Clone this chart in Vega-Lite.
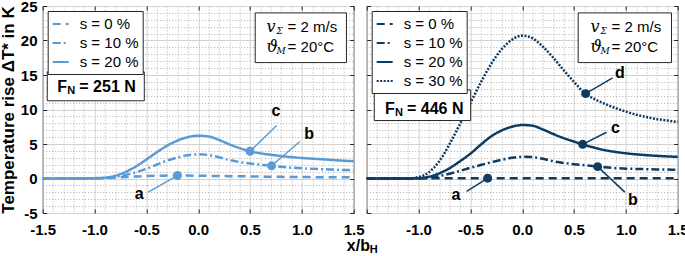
{
  "$schema": "https://vega.github.io/schema/vega-lite/v6.json",
  "autosize": {"type": "none"},
  "padding": {"left": 42.7, "top": 6, "right": 642.3, "bottom": 250},
  "background": "white",
  "spacing": 13,
  "bounds": "flush",
  "config": {
    "font": "Liberation Sans",
    "view": {"stroke": "#262626", "strokeWidth": 1},
    "axis": {
      "labelFont": "Liberation Sans", "labelFontSize": 15, "labelFontWeight": "bold", "labelColor": "#000000",
      "titleFont": "Liberation Sans", "titleFontWeight": "bold", "titleColor": "#000000",
      "domain": false, "ticks": false, "labelOverlap": false, "labelFlush": false, "grid": true,
      "tickColor": "#262626", "tickWidth": 1
    }
  },
  "resolve": {
    "scale": {"x": "independent", "y": "independent", "strokeDash": "independent"},
    "legend": {"strokeDash": "independent"}
  },
  "datasets": {
    "left": [
      {"s": "s = 0 %", "x": -1.5, "y": 0}, {"s": "s = 0 %", "x": -1.4, "y": 0}, {"s": "s = 0 %", "x": -1.3, "y": 0}, {"s": "s = 0 %", "x": -1.2, "y": 0}, {"s": "s = 0 %", "x": -1.1, "y": 0}, {"s": "s = 0 %", "x": -1.0, "y": 0.01}, {"s": "s = 0 %", "x": -0.9, "y": 0.05}, {"s": "s = 0 %", "x": -0.8, "y": 0.12}, {"s": "s = 0 %", "x": -0.7, "y": 0.22}, {"s": "s = 0 %", "x": -0.6, "y": 0.3}, {"s": "s = 0 %", "x": -0.5, "y": 0.36}, {"s": "s = 0 %", "x": -0.4, "y": 0.4}, {"s": "s = 0 %", "x": -0.3, "y": 0.42}, {"s": "s = 0 %", "x": -0.2, "y": 0.43}, {"s": "s = 0 %", "x": -0.1, "y": 0.42}, {"s": "s = 0 %", "x": 0, "y": 0.4}, {"s": "s = 0 %", "x": 0.1, "y": 0.38}, {"s": "s = 0 %", "x": 0.2, "y": 0.36}, {"s": "s = 0 %", "x": 0.3, "y": 0.34}, {"s": "s = 0 %", "x": 0.4, "y": 0.32}, {"s": "s = 0 %", "x": 0.5, "y": 0.3}, {"s": "s = 0 %", "x": 0.6, "y": 0.28}, {"s": "s = 0 %", "x": 0.7, "y": 0.26}, {"s": "s = 0 %", "x": 0.8, "y": 0.24}, {"s": "s = 0 %", "x": 0.9, "y": 0.22}, {"s": "s = 0 %", "x": 1.0, "y": 0.21}, {"s": "s = 0 %", "x": 1.1, "y": 0.2}, {"s": "s = 0 %", "x": 1.2, "y": 0.19}, {"s": "s = 0 %", "x": 1.3, "y": 0.18}, {"s": "s = 0 %", "x": 1.4, "y": 0.17}, {"s": "s = 0 %", "x": 1.5, "y": 0.16},
      {"s": "s = 10 %", "x": -1.5, "y": 0}, {"s": "s = 10 %", "x": -1.4, "y": 0}, {"s": "s = 10 %", "x": -1.3, "y": 0}, {"s": "s = 10 %", "x": -1.2, "y": 0}, {"s": "s = 10 %", "x": -1.1, "y": 0}, {"s": "s = 10 %", "x": -1.0, "y": 0.02}, {"s": "s = 10 %", "x": -0.9, "y": 0.08}, {"s": "s = 10 %", "x": -0.8, "y": 0.22}, {"s": "s = 10 %", "x": -0.7, "y": 0.5}, {"s": "s = 10 %", "x": -0.6, "y": 0.9}, {"s": "s = 10 %", "x": -0.5, "y": 1.4}, {"s": "s = 10 %", "x": -0.4, "y": 2.0}, {"s": "s = 10 %", "x": -0.3, "y": 2.6}, {"s": "s = 10 %", "x": -0.2, "y": 3.05}, {"s": "s = 10 %", "x": -0.1, "y": 3.38}, {"s": "s = 10 %", "x": 0, "y": 3.5}, {"s": "s = 10 %", "x": 0.1, "y": 3.4}, {"s": "s = 10 %", "x": 0.2, "y": 3.08}, {"s": "s = 10 %", "x": 0.3, "y": 2.68}, {"s": "s = 10 %", "x": 0.4, "y": 2.38}, {"s": "s = 10 %", "x": 0.5, "y": 2.17}, {"s": "s = 10 %", "x": 0.6, "y": 2.0}, {"s": "s = 10 %", "x": 0.7, "y": 1.85}, {"s": "s = 10 %", "x": 0.8, "y": 1.7}, {"s": "s = 10 %", "x": 0.9, "y": 1.57}, {"s": "s = 10 %", "x": 1.0, "y": 1.47}, {"s": "s = 10 %", "x": 1.1, "y": 1.4}, {"s": "s = 10 %", "x": 1.2, "y": 1.34}, {"s": "s = 10 %", "x": 1.3, "y": 1.29}, {"s": "s = 10 %", "x": 1.4, "y": 1.24}, {"s": "s = 10 %", "x": 1.5, "y": 1.2},
      {"s": "s = 20 %", "x": -1.5, "y": 0}, {"s": "s = 20 %", "x": -1.4, "y": 0}, {"s": "s = 20 %", "x": -1.3, "y": 0}, {"s": "s = 20 %", "x": -1.2, "y": 0}, {"s": "s = 20 %", "x": -1.1, "y": 0.02}, {"s": "s = 20 %", "x": -1.0, "y": 0.05}, {"s": "s = 20 %", "x": -0.9, "y": 0.12}, {"s": "s = 20 %", "x": -0.8, "y": 0.4}, {"s": "s = 20 %", "x": -0.7, "y": 0.95}, {"s": "s = 20 %", "x": -0.6, "y": 1.75}, {"s": "s = 20 %", "x": -0.5, "y": 2.75}, {"s": "s = 20 %", "x": -0.4, "y": 3.8}, {"s": "s = 20 %", "x": -0.3, "y": 4.75}, {"s": "s = 20 %", "x": -0.2, "y": 5.5}, {"s": "s = 20 %", "x": -0.1, "y": 6.0}, {"s": "s = 20 %", "x": 0, "y": 6.2}, {"s": "s = 20 %", "x": 0.1, "y": 6.1}, {"s": "s = 20 %", "x": 0.2, "y": 5.6}, {"s": "s = 20 %", "x": 0.3, "y": 4.95}, {"s": "s = 20 %", "x": 0.4, "y": 4.4}, {"s": "s = 20 %", "x": 0.5, "y": 3.95}, {"s": "s = 20 %", "x": 0.6, "y": 3.65}, {"s": "s = 20 %", "x": 0.7, "y": 3.45}, {"s": "s = 20 %", "x": 0.8, "y": 3.25}, {"s": "s = 20 %", "x": 0.9, "y": 3.1}, {"s": "s = 20 %", "x": 1.0, "y": 2.97}, {"s": "s = 20 %", "x": 1.1, "y": 2.87}, {"s": "s = 20 %", "x": 1.2, "y": 2.78}, {"s": "s = 20 %", "x": 1.3, "y": 2.68}, {"s": "s = 20 %", "x": 1.4, "y": 2.58}, {"s": "s = 20 %", "x": 1.5, "y": 2.5}
    ],
    "right": [
      {"s": "s = 0 %", "x": -1.5, "y": 0}, {"s": "s = 0 %", "x": -1.0, "y": 0}, {"s": "s = 0 %", "x": -0.9, "y": 0.01}, {"s": "s = 0 %", "x": -0.8, "y": 0.03}, {"s": "s = 0 %", "x": -0.7, "y": 0.05}, {"s": "s = 0 %", "x": -0.5, "y": 0.05}, {"s": "s = 0 %", "x": 0, "y": 0.05}, {"s": "s = 0 %", "x": 0.5, "y": 0.05}, {"s": "s = 0 %", "x": 1.0, "y": 0.05}, {"s": "s = 0 %", "x": 1.5, "y": 0.05},
      {"s": "s = 10 %", "x": -1.5, "y": 0}, {"s": "s = 10 %", "x": -1.4, "y": 0}, {"s": "s = 10 %", "x": -1.3, "y": 0}, {"s": "s = 10 %", "x": -1.2, "y": 0}, {"s": "s = 10 %", "x": -1.1, "y": 0}, {"s": "s = 10 %", "x": -1.0, "y": 0.02}, {"s": "s = 10 %", "x": -0.9, "y": 0.1}, {"s": "s = 10 %", "x": -0.8, "y": 0.35}, {"s": "s = 10 %", "x": -0.7, "y": 0.7}, {"s": "s = 10 %", "x": -0.6, "y": 1.1}, {"s": "s = 10 %", "x": -0.5, "y": 1.55}, {"s": "s = 10 %", "x": -0.4, "y": 1.95}, {"s": "s = 10 %", "x": -0.3, "y": 2.35}, {"s": "s = 10 %", "x": -0.2, "y": 2.7}, {"s": "s = 10 %", "x": -0.1, "y": 3.0}, {"s": "s = 10 %", "x": 0, "y": 3.15}, {"s": "s = 10 %", "x": 0.1, "y": 3.1}, {"s": "s = 10 %", "x": 0.2, "y": 2.85}, {"s": "s = 10 %", "x": 0.3, "y": 2.5}, {"s": "s = 10 %", "x": 0.4, "y": 2.25}, {"s": "s = 10 %", "x": 0.5, "y": 2.07}, {"s": "s = 10 %", "x": 0.6, "y": 1.93}, {"s": "s = 10 %", "x": 0.7, "y": 1.77}, {"s": "s = 10 %", "x": 0.8, "y": 1.62}, {"s": "s = 10 %", "x": 0.9, "y": 1.5}, {"s": "s = 10 %", "x": 1.0, "y": 1.43}, {"s": "s = 10 %", "x": 1.1, "y": 1.38}, {"s": "s = 10 %", "x": 1.2, "y": 1.35}, {"s": "s = 10 %", "x": 1.3, "y": 1.32}, {"s": "s = 10 %", "x": 1.4, "y": 1.29}, {"s": "s = 10 %", "x": 1.5, "y": 1.26},
      {"s": "s = 20 %", "x": -1.5, "y": 0}, {"s": "s = 20 %", "x": -1.4, "y": 0}, {"s": "s = 20 %", "x": -1.3, "y": 0}, {"s": "s = 20 %", "x": -1.2, "y": 0}, {"s": "s = 20 %", "x": -1.1, "y": 0}, {"s": "s = 20 %", "x": -1.0, "y": 0.05}, {"s": "s = 20 %", "x": -0.9, "y": 0.25}, {"s": "s = 20 %", "x": -0.8, "y": 0.75}, {"s": "s = 20 %", "x": -0.7, "y": 1.5}, {"s": "s = 20 %", "x": -0.6, "y": 2.5}, {"s": "s = 20 %", "x": -0.5, "y": 3.6}, {"s": "s = 20 %", "x": -0.4, "y": 4.9}, {"s": "s = 20 %", "x": -0.3, "y": 6.1}, {"s": "s = 20 %", "x": -0.2, "y": 6.95}, {"s": "s = 20 %", "x": -0.1, "y": 7.5}, {"s": "s = 20 %", "x": 0, "y": 7.75}, {"s": "s = 20 %", "x": 0.1, "y": 7.65}, {"s": "s = 20 %", "x": 0.2, "y": 7.1}, {"s": "s = 20 %", "x": 0.3, "y": 6.45}, {"s": "s = 20 %", "x": 0.4, "y": 5.85}, {"s": "s = 20 %", "x": 0.5, "y": 5.35}, {"s": "s = 20 %", "x": 0.6, "y": 4.85}, {"s": "s = 20 %", "x": 0.7, "y": 4.45}, {"s": "s = 20 %", "x": 0.8, "y": 4.1}, {"s": "s = 20 %", "x": 0.9, "y": 3.85}, {"s": "s = 20 %", "x": 1.0, "y": 3.65}, {"s": "s = 20 %", "x": 1.1, "y": 3.5}, {"s": "s = 20 %", "x": 1.2, "y": 3.38}, {"s": "s = 20 %", "x": 1.3, "y": 3.28}, {"s": "s = 20 %", "x": 1.4, "y": 3.2}, {"s": "s = 20 %", "x": 1.5, "y": 3.15},
      {"s": "s = 30 %", "x": -1.5, "y": 0}, {"s": "s = 30 %", "x": -1.4, "y": 0}, {"s": "s = 30 %", "x": -1.3, "y": 0}, {"s": "s = 30 %", "x": -1.2, "y": 0}, {"s": "s = 30 %", "x": -1.1, "y": 0.02}, {"s": "s = 30 %", "x": -1.0, "y": 0.2}, {"s": "s = 30 %", "x": -0.9, "y": 0.9}, {"s": "s = 30 %", "x": -0.8, "y": 2.5}, {"s": "s = 30 %", "x": -0.7, "y": 5.0}, {"s": "s = 30 %", "x": -0.6, "y": 7.9}, {"s": "s = 30 %", "x": -0.5, "y": 10.9}, {"s": "s = 30 %", "x": -0.4, "y": 13.9}, {"s": "s = 30 %", "x": -0.3, "y": 16.6}, {"s": "s = 30 %", "x": -0.2, "y": 18.7}, {"s": "s = 30 %", "x": -0.1, "y": 20.1}, {"s": "s = 30 %", "x": 0, "y": 20.7}, {"s": "s = 30 %", "x": 0.1, "y": 20.3}, {"s": "s = 30 %", "x": 0.2, "y": 19.1}, {"s": "s = 30 %", "x": 0.3, "y": 17.5}, {"s": "s = 30 %", "x": 0.4, "y": 15.7}, {"s": "s = 30 %", "x": 0.5, "y": 14.0}, {"s": "s = 30 %", "x": 0.6, "y": 12.4}, {"s": "s = 30 %", "x": 0.7, "y": 11.5}, {"s": "s = 30 %", "x": 0.8, "y": 10.8}, {"s": "s = 30 %", "x": 0.9, "y": 10.2}, {"s": "s = 30 %", "x": 1.0, "y": 9.7}, {"s": "s = 30 %", "x": 1.1, "y": 9.25}, {"s": "s = 30 %", "x": 1.2, "y": 8.9}, {"s": "s = 30 %", "x": 1.3, "y": 8.6}, {"s": "s = 30 %", "x": 1.4, "y": 8.4}, {"s": "s = 30 %", "x": 1.5, "y": 8.2}
    ],
    "leftAnn": [
      {"lab": "a", "lx": -0.568, "ly": -2.2, "ex": -0.482, "ey": -1.97, "mx": -0.2, "my": 0.43},
      {"lab": "c", "lx": 0.75, "ly": 9.84, "ex": 0.757, "ey": 7.67, "mx": 0.5, "my": 3.95},
      {"lab": "b", "lx": 1.07, "ly": 6.47, "ex": 0.981, "ey": 5.36, "mx": 0.708, "my": 1.84}
    ],
    "rightAnn": [
      {"lab": "a", "lx": -0.64, "ly": -2.44, "ex": -0.536, "ey": -1.86, "mx": -0.333, "my": 0.05},
      {"lab": "b", "lx": 1.068, "ly": -3.06, "ex": 0.99, "ey": -1.97, "mx": 0.728, "my": 1.72},
      {"lab": "c", "lx": 0.9, "ly": 7.28, "ex": 0.814, "ey": 6.7, "mx": 0.583, "my": 4.95},
      {"lab": "d", "lx": 0.943, "ly": 15.23, "ex": 0.872, "ey": 14.57, "mx": 0.612, "my": 12.3}
    ],
    "leftBoxes": [
      {"x": -1.456, "x2": -0.52, "y": 15.46, "y2": 11.26},
      {"x": 0.55, "x2": 1.43, "y": 24.0, "y2": 16.8}
    ],
    "rightBoxes": [
      {"x": -1.427, "x2": -0.497, "y": 12.83, "y2": 8.4},
      {"x": 0.54, "x2": 1.44, "y": 24.0, "y2": 16.8}
    ]
  },
  "hconcat": [
    {
      "width": 311,
      "height": 207,
      "resolve": {"axis": {"x": "independent", "y": "independent"}},
      "layer": [
        {
          "data": {"name": "leftAnn"},
          "mark": {"type": "rule", "color": "#5b9bd5", "strokeWidth": 1.5},
          "encoding": {
            "x": {"field": "ex", "type": "quantitative", "scale": {"domain": [-1.5, 1.5], "nice": false, "zero": false},
              "axis": {"orient": "bottom", "values": [-1.4,-1.3,-1.2,-1.1,-0.9,-0.8,-0.7,-0.6,-0.4,-0.3,-0.2,-0.1,0.1,0.2,0.3,0.4,0.6,0.7,0.8,0.9,1.1,1.2,1.3,1.4],
                "title": null, "labels": false, "ticks": false, "domain": false, "grid": true, "gridDash": [1, 2], "gridColor": "#b0b0b0"}},
            "y": {"field": "ey", "type": "quantitative", "scale": {"domain": [-5, 25], "nice": false, "zero": false},
              "axis": {"orient": "left", "values": [-4,-3,-2,-1,1,2,3,4,6,7,8,9,11,12,13,14,16,17,18,19,21,22,23,24],
                "title": null, "labels": false, "ticks": false, "domain": false, "grid": true, "gridDash": [1, 2], "gridColor": "#b0b0b0"}},
            "x2": {"field": "mx"}, "y2": {"field": "my"}
          }
        },
        {
          "data": {"name": "left"},
          "mark": {"type": "line", "color": "#5b9bd5", "strokeWidth": 2.5, "interpolate": "monotone"},
          "encoding": {
            "x": {"field": "x", "type": "quantitative", "scale": {"domain": [-1.5, 1.5], "nice": false, "zero": false},
              "axis": {"orient": "bottom", "values": [-1.5, -1, -0.5, 0, 0.5, 1, 1.5], "title": null,
                "ticks": true, "tickSize": -4, "labelPadding": 13,
                "labelOverlap": false, "labelFlush": false, "grid": true, "gridColor": "#d2d2d2",
                "labelExpr": "replace(format(datum.value, '.1f'), '\u2212', '-')"}},
            "y": {"field": "y", "type": "quantitative", "scale": {"domain": [-5, 25], "nice": false, "zero": false},
              "axis": {"orient": "left", "values": [-5, 0, 5, 10, 15, 20, 25],
                "title": "Temperature rise ΔT* in K", "titleFontSize": 17, "titlePadding": 3,
                "ticks": true, "tickSize": -4, "labelPadding": 9.7,
                "labelOverlap": false, "labelFlush": false, "grid": true, "gridColor": "#d2d2d2",
                "labelExpr": "'' + datum.value"}},
            "strokeDash": {"field": "s", "type": "nominal",
              "scale": {"domain": ["s = 0 %", "s = 10 %", "s = 20 %"], "range": [[8, 5], [8, 3, 2, 3], [1, 0]]},
              "legend": {"orient": "top-left", "offset": 5, "title": null, "strokeColor": "#262626", "fillColor": "white", "padding": 4,
                "labelFont": "Liberation Sans", "labelFontSize": 15, "labelColor": "#000000", "symbolType": "stroke",
                "symbolStrokeColor": "#5b9bd5", "symbolStrokeWidth": 2, "symbolSize": 256, "labelOffset": 10, "rowPadding": 2}}
          }
        },
        {
          "data": {"name": "leftAnn"},
          "mark": {"type": "circle", "color": "#5b9bd5", "opacity": 1, "size": 80},
          "encoding": {
            "x": {"field": "mx", "type": "quantitative", "scale": {"domain": [-1.5, 1.5], "nice": false, "zero": false},
              "axis": {"orient": "top", "values": [-1.5, -1, -0.5, 0, 0.5, 1, 1.5], "title": null, "labels": false, "grid": false, "domain": false, "ticks": true, "tickSize": -4}},
            "y": {"field": "my", "type": "quantitative", "scale": {"domain": [-5, 25], "nice": false, "zero": false},
              "axis": {"orient": "right", "values": [-5, 0, 5, 10, 15, 20, 25], "title": null, "labels": false, "grid": false, "domain": false, "ticks": true, "tickSize": -4}}
          }
        },
        {
          "data": {"name": "leftAnn"},
          "mark": {"type": "text", "font": "Liberation Sans", "fontSize": 16, "fontWeight": "bold", "color": "#000000", "baseline": "middle"},
          "encoding": {
            "x": {"field": "lx", "type": "quantitative", "axis": null, "scale": {"domain": [-1.5, 1.5], "nice": false, "zero": false}},
            "y": {"field": "ly", "type": "quantitative", "axis": null, "scale": {"domain": [-5, 25], "nice": false, "zero": false}},
            "text": {"field": "lab"}
          }
        },
        {
          "data": {"name": "leftBoxes"},
          "mark": {"type": "rect", "fill": "white", "stroke": "#262626", "strokeWidth": 1},
          "encoding": {
            "x": {"field": "x", "type": "quantitative", "axis": null, "scale": {"domain": [-1.5, 1.5], "nice": false, "zero": false}},
            "y": {"field": "y", "type": "quantitative", "axis": null, "scale": {"domain": [-5, 25], "nice": false, "zero": false}},
            "x2": {"field": "x2"}, "y2": {"field": "y2"}
          }
        },
        {
          "data": {"values": [{"t": "F", "x": -1.359, "y": 13.3}]},
          "mark": {"type": "text", "font": "Liberation Sans", "fontSize": 16, "fontWeight": "bold", "color": "#000000", "align": "left", "baseline": "middle"},
          "encoding": {
            "x": {"field": "x", "type": "quantitative", "axis": null, "scale": {"domain": [-1.5, 1.5], "nice": false, "zero": false}},
            "y": {"field": "y", "type": "quantitative", "axis": null, "scale": {"domain": [-5, 25], "nice": false, "zero": false}},
            "text": {"field": "t"}
          }
        },
        {
          "data": {"values": [{"t": "N", "x": -1.359, "y": 13.3}]},
          "mark": {"type": "text", "font": "Liberation Sans", "fontSize": 11, "fontWeight": "bold", "color": "#000000", "align": "left", "baseline": "middle", "dx": 10, "dy": 4},
          "encoding": {
            "x": {"field": "x", "type": "quantitative", "axis": null, "scale": {"domain": [-1.5, 1.5], "nice": false, "zero": false}},
            "y": {"field": "y", "type": "quantitative", "axis": null, "scale": {"domain": [-5, 25], "nice": false, "zero": false}},
            "text": {"field": "t"}
          }
        },
        {
          "data": {"values": [{"t": "= 251 N", "x": -1.359, "y": 13.3}]},
          "mark": {"type": "text", "font": "Liberation Sans", "fontSize": 16, "fontWeight": "bold", "color": "#000000", "align": "left", "baseline": "middle", "dx": 22},
          "encoding": {
            "x": {"field": "x", "type": "quantitative", "axis": null, "scale": {"domain": [-1.5, 1.5], "nice": false, "zero": false}},
            "y": {"field": "y", "type": "quantitative", "axis": null, "scale": {"domain": [-5, 25], "nice": false, "zero": false}},
            "text": {"field": "t"}
          }
        },
        {
          "data": {"values": [{"t": "v", "x": 0.66, "y": 21.9}, {"t": "ϑ", "x": 0.66, "y": 19.0}]},
          "mark": {"type": "text", "font": "DejaVu Serif", "fontSize": 16, "fontStyle": "italic", "color": "#000000", "align": "left", "baseline": "middle"},
          "encoding": {
            "x": {"field": "x", "type": "quantitative", "axis": null, "scale": {"domain": [-1.5, 1.5], "nice": false, "zero": false}},
            "y": {"field": "y", "type": "quantitative", "axis": null, "scale": {"domain": [-5, 25], "nice": false, "zero": false}},
            "text": {"field": "t"}
          }
        },
        {
          "data": {"values": [{"t": "Σ", "x": 0.66, "y": 21.9}, {"t": "M", "x": 0.66, "y": 19.0}]},
          "mark": {"type": "text", "font": "DejaVu Serif", "fontSize": 9, "fontStyle": "italic", "color": "#000000", "align": "left", "baseline": "middle", "dx": 10, "dy": 4},
          "encoding": {
            "x": {"field": "x", "type": "quantitative", "axis": null, "scale": {"domain": [-1.5, 1.5], "nice": false, "zero": false}},
            "y": {"field": "y", "type": "quantitative", "axis": null, "scale": {"domain": [-5, 25], "nice": false, "zero": false}},
            "text": {"field": "t"}
          }
        },
        {
          "data": {"values": [{"t": "= 2 m/s", "x": 0.66, "y": 21.9}, {"t": "= 20°C", "x": 0.66, "y": 19.0}]},
          "mark": {"type": "text", "font": "Liberation Sans", "fontSize": 15, "color": "#000000", "align": "left", "baseline": "middle", "dx": 21},
          "encoding": {
            "x": {"field": "x", "type": "quantitative", "axis": null, "scale": {"domain": [-1.5, 1.5], "nice": false, "zero": false}},
            "y": {"field": "y", "type": "quantitative", "axis": null, "scale": {"domain": [-5, 25], "nice": false, "zero": false}},
            "text": {"field": "t"}
          }
        },
        {
          "data": {"values": [{"t": "x/b", "x": 1.434, "y": -9.8}]},
          "mark": {"type": "text", "font": "Liberation Sans", "fontSize": 16, "fontWeight": "bold", "color": "#000000", "align": "left", "baseline": "middle"},
          "encoding": {
            "x": {"field": "x", "type": "quantitative", "axis": null, "scale": {"domain": [-1.5, 1.5], "nice": false, "zero": false}},
            "y": {"field": "y", "type": "quantitative", "axis": null, "scale": {"domain": [-5, 25], "nice": false, "zero": false}},
            "text": {"field": "t"}
          }
        },
        {
          "data": {"values": [{"t": "H", "x": 1.434, "y": -9.8}]},
          "mark": {"type": "text", "font": "Liberation Sans", "fontSize": 11, "fontWeight": "bold", "color": "#000000", "align": "left", "baseline": "middle", "dx": 23, "dy": 4},
          "encoding": {
            "x": {"field": "x", "type": "quantitative", "axis": null, "scale": {"domain": [-1.5, 1.5], "nice": false, "zero": false}},
            "y": {"field": "y", "type": "quantitative", "axis": null, "scale": {"domain": [-5, 25], "nice": false, "zero": false}},
            "text": {"field": "t"}
          }
        }
      ]
    },
    {
      "width": 311,
      "height": 207,
      "resolve": {"axis": {"x": "independent", "y": "independent"}},
      "layer": [
        {
          "data": {"name": "rightAnn"},
          "mark": {"type": "rule", "color": "#0f3b63", "strokeWidth": 1.5},
          "encoding": {
            "x": {"field": "ex", "type": "quantitative", "scale": {"domain": [-1.5, 1.5], "nice": false, "zero": false},
              "axis": {"orient": "bottom", "values": [-1.4,-1.3,-1.2,-1.1,-0.9,-0.8,-0.7,-0.6,-0.4,-0.3,-0.2,-0.1,0.1,0.2,0.3,0.4,0.6,0.7,0.8,0.9,1.1,1.2,1.3,1.4],
                "title": null, "labels": false, "ticks": false, "domain": false, "grid": true, "gridDash": [1, 2], "gridColor": "#b0b0b0"}},
            "y": {"field": "ey", "type": "quantitative", "scale": {"domain": [-5, 25], "nice": false, "zero": false},
              "axis": {"orient": "left", "values": [-4,-3,-2,-1,1,2,3,4,6,7,8,9,11,12,13,14,16,17,18,19,21,22,23,24],
                "title": null, "labels": false, "ticks": false, "domain": false, "grid": true, "gridDash": [1, 2], "gridColor": "#b0b0b0"}},
            "x2": {"field": "mx"}, "y2": {"field": "my"}
          }
        },
        {
          "data": {"name": "right"},
          "mark": {"type": "line", "color": "#0f3b63", "strokeWidth": 2.5, "interpolate": "monotone"},
          "encoding": {
            "x": {"field": "x", "type": "quantitative", "scale": {"domain": [-1.5, 1.5], "nice": false, "zero": false},
              "axis": {"orient": "bottom", "values": [-1.5, -1, -0.5, 0, 0.5, 1, 1.5], "title": null,
                "ticks": true, "tickSize": -4, "labelPadding": 13,
                "labelOverlap": false, "labelFlush": false, "grid": true, "gridColor": "#d2d2d2",
                "labelExpr": "datum.value < -1.45 ? '' : replace(format(datum.value, '.1f'), '\u2212', '-')"}},
            "y": {"field": "y", "type": "quantitative", "scale": {"domain": [-5, 25], "nice": false, "zero": false},
              "axis": {"orient": "left", "values": [-5, 0, 5, 10, 15, 20, 25], "title": null, "labels": false,
                "ticks": true, "tickSize": -4, "grid": true, "gridColor": "#d2d2d2"}},
            "strokeDash": {"field": "s", "type": "nominal",
              "scale": {"domain": ["s = 0 %", "s = 10 %", "s = 20 %", "s = 30 %"], "range": [[8, 5], [8, 3, 2, 3], [1, 0], [2, 1.5]]},
              "legend": {"orient": "top-left", "offset": 5, "title": null, "strokeColor": "#262626", "fillColor": "white", "padding": 4,
                "labelFont": "Liberation Sans", "labelFontSize": 15, "labelColor": "#000000", "symbolType": "stroke",
                "symbolStrokeColor": "#0f3b63", "symbolStrokeWidth": 2, "symbolSize": 256, "labelOffset": 10, "rowPadding": 2}}
          }
        },
        {
          "data": {"name": "rightAnn"},
          "mark": {"type": "circle", "color": "#0f3b63", "opacity": 1, "size": 80},
          "encoding": {
            "x": {"field": "mx", "type": "quantitative", "scale": {"domain": [-1.5, 1.5], "nice": false, "zero": false},
              "axis": {"orient": "top", "values": [-1.5, -1, -0.5, 0, 0.5, 1, 1.5], "title": null, "labels": false, "grid": false, "domain": false, "ticks": true, "tickSize": -4}},
            "y": {"field": "my", "type": "quantitative", "scale": {"domain": [-5, 25], "nice": false, "zero": false},
              "axis": {"orient": "right", "values": [-5, 0, 5, 10, 15, 20, 25], "title": null, "labels": false, "grid": false, "domain": false, "ticks": true, "tickSize": -4}}
          }
        },
        {
          "data": {"name": "rightAnn"},
          "mark": {"type": "text", "font": "Liberation Sans", "fontSize": 16, "fontWeight": "bold", "color": "#000000", "baseline": "middle"},
          "encoding": {
            "x": {"field": "lx", "type": "quantitative", "axis": null, "scale": {"domain": [-1.5, 1.5], "nice": false, "zero": false}},
            "y": {"field": "ly", "type": "quantitative", "axis": null, "scale": {"domain": [-5, 25], "nice": false, "zero": false}},
            "text": {"field": "lab"}
          }
        },
        {
          "data": {"name": "rightBoxes"},
          "mark": {"type": "rect", "fill": "white", "stroke": "#262626", "strokeWidth": 1},
          "encoding": {
            "x": {"field": "x", "type": "quantitative", "axis": null, "scale": {"domain": [-1.5, 1.5], "nice": false, "zero": false}},
            "y": {"field": "y", "type": "quantitative", "axis": null, "scale": {"domain": [-5, 25], "nice": false, "zero": false}},
            "x2": {"field": "x2"}, "y2": {"field": "y2"}
          }
        },
        {
          "data": {"values": [{"t": "F", "x": -1.324, "y": 10.1}]},
          "mark": {"type": "text", "font": "Liberation Sans", "fontSize": 16, "fontWeight": "bold", "color": "#000000", "align": "left", "baseline": "middle"},
          "encoding": {
            "x": {"field": "x", "type": "quantitative", "axis": null, "scale": {"domain": [-1.5, 1.5], "nice": false, "zero": false}},
            "y": {"field": "y", "type": "quantitative", "axis": null, "scale": {"domain": [-5, 25], "nice": false, "zero": false}},
            "text": {"field": "t"}
          }
        },
        {
          "data": {"values": [{"t": "N", "x": -1.324, "y": 10.1}]},
          "mark": {"type": "text", "font": "Liberation Sans", "fontSize": 11, "fontWeight": "bold", "color": "#000000", "align": "left", "baseline": "middle", "dx": 10, "dy": 4},
          "encoding": {
            "x": {"field": "x", "type": "quantitative", "axis": null, "scale": {"domain": [-1.5, 1.5], "nice": false, "zero": false}},
            "y": {"field": "y", "type": "quantitative", "axis": null, "scale": {"domain": [-5, 25], "nice": false, "zero": false}},
            "text": {"field": "t"}
          }
        },
        {
          "data": {"values": [{"t": "= 446 N", "x": -1.324, "y": 10.1}]},
          "mark": {"type": "text", "font": "Liberation Sans", "fontSize": 16, "fontWeight": "bold", "color": "#000000", "align": "left", "baseline": "middle", "dx": 22},
          "encoding": {
            "x": {"field": "x", "type": "quantitative", "axis": null, "scale": {"domain": [-1.5, 1.5], "nice": false, "zero": false}},
            "y": {"field": "y", "type": "quantitative", "axis": null, "scale": {"domain": [-5, 25], "nice": false, "zero": false}},
            "text": {"field": "t"}
          }
        },
        {
          "data": {"values": [{"t": "v", "x": 0.66, "y": 21.9}, {"t": "ϑ", "x": 0.66, "y": 19.0}]},
          "mark": {"type": "text", "font": "DejaVu Serif", "fontSize": 16, "fontStyle": "italic", "color": "#000000", "align": "left", "baseline": "middle"},
          "encoding": {
            "x": {"field": "x", "type": "quantitative", "axis": null, "scale": {"domain": [-1.5, 1.5], "nice": false, "zero": false}},
            "y": {"field": "y", "type": "quantitative", "axis": null, "scale": {"domain": [-5, 25], "nice": false, "zero": false}},
            "text": {"field": "t"}
          }
        },
        {
          "data": {"values": [{"t": "Σ", "x": 0.66, "y": 21.9}, {"t": "M", "x": 0.66, "y": 19.0}]},
          "mark": {"type": "text", "font": "DejaVu Serif", "fontSize": 9, "fontStyle": "italic", "color": "#000000", "align": "left", "baseline": "middle", "dx": 10, "dy": 4},
          "encoding": {
            "x": {"field": "x", "type": "quantitative", "axis": null, "scale": {"domain": [-1.5, 1.5], "nice": false, "zero": false}},
            "y": {"field": "y", "type": "quantitative", "axis": null, "scale": {"domain": [-5, 25], "nice": false, "zero": false}},
            "text": {"field": "t"}
          }
        },
        {
          "data": {"values": [{"t": "= 2 m/s", "x": 0.66, "y": 21.9}, {"t": "= 20°C", "x": 0.66, "y": 19.0}]},
          "mark": {"type": "text", "font": "Liberation Sans", "fontSize": 15, "color": "#000000", "align": "left", "baseline": "middle", "dx": 21},
          "encoding": {
            "x": {"field": "x", "type": "quantitative", "axis": null, "scale": {"domain": [-1.5, 1.5], "nice": false, "zero": false}},
            "y": {"field": "y", "type": "quantitative", "axis": null, "scale": {"domain": [-5, 25], "nice": false, "zero": false}},
            "text": {"field": "t"}
          }
        }
      ]
    }
  ]
}
